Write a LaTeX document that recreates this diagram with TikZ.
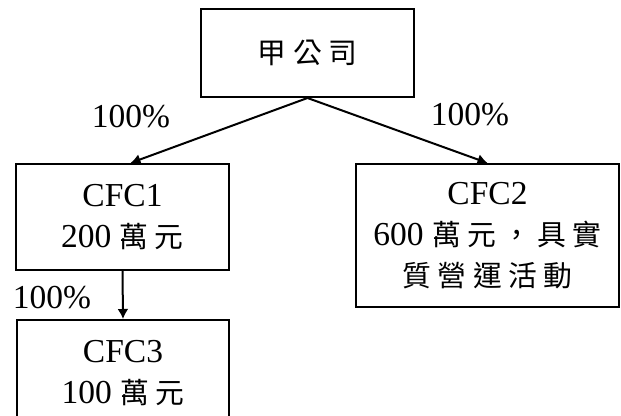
\documentclass[tikz,border=0pt]{standalone}
\usepackage{fontspec}
\setmainfont{Liberation Serif}
\newfontfamily\cjk[Scale=0.86,LetterSpace=22]{Noto Sans CJK TC}
\usetikzlibrary{arrows.meta}
\tikzset{
  firm/.style={draw, line width=1pt, align=center, inner sep=0pt},
  share/.style={inner sep=0pt},
  own/.style={-{Latex[length=5pt,width=5.5pt]}},
}

\begin{document}
\begin{tikzpicture}[x=0.5pt, y=-0.5pt, line width=1pt,
  font=\fontsize{16.75}{20.5}\selectfont]
\clip (0,0) rectangle (621,416);
\node[firm, minimum width=106.5pt, minimum height=44pt] (parent) at (307.5,53) {\cjk 甲公司};
\node[firm, minimum width=106.5pt, minimum height=53pt] (cfc1) at (122.5,217) {CFC1\\200 {\cjk 萬元}};
\node[firm, minimum width=131.5pt, minimum height=71.5pt] (cfc2) at (487.5,235.5) {CFC2\\600 {\cjk 萬元，具實}\\{\cjk 質營運活動}};
\node[firm, minimum width=106pt, minimum height=53pt] (cfc3) at (123,373) {CFC3\\100 {\cjk 萬元}};
% shareholdings
\node[share] (s1) at (131,117) {100\%};
\node[share] (s2) at (470,115) {100\%};
\node[share] (s3) at (52,298) {100\%};
\draw[own] (parent.south) -- ([xshift=4pt]cfc1.north);
\draw[own] (parent.south) -- (cfc2.north);
\draw[own] (cfc1.south) -- (cfc3.north);
\end{tikzpicture}
\end{document}
